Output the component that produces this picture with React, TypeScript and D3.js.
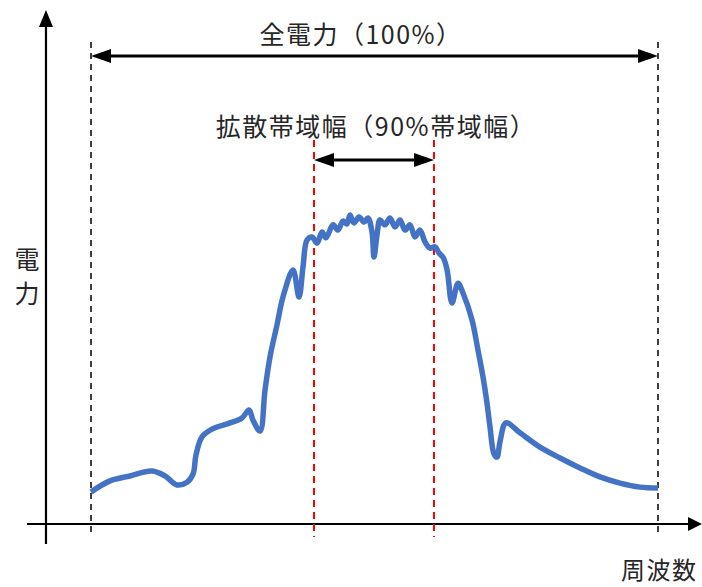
import React from "react";
import * as d3 from "d3";

// Spectrum curve: frequency (0-100 = full power band) vs power (relative units)
const freq = [
  0, 3.35, 6.88, 10.76, 13.05, 15.17, 16.93, 17.99, 18.52, 19.58, 21.34, 24.51, 26.63, 27.87, 28.57, 29.81,
  30.69, 31.57, 32.8, 33.86, 35.63, 36.68, 37.39, 38.1, 38.98, 39.86, 40.74, 41.45, 42.68, 43.56, 44.44,
  45.15, 45.68, 46.38, 47.27, 48.15, 48.85, 49.56, 49.91, 50.44, 50.97, 51.85, 52.73, 53.62, 54.5, 55.38,
  56.26, 57.14, 58.02, 58.91, 59.79, 60.67, 61.38, 62.1, 62.8, 63.67, 64.73, 65.61, 67.2, 68.25, 69.14,
  69.84, 70.37, 71.08, 71.6, 72.13, 73.19, 75.66, 79.19, 82.72, 86.24, 89.77, 93.3, 96.83, 100,
];
const power = [
  10.3, 13.9, 15.5, 17.1, 15.5, 12.6, 13.5, 16.1, 22.3, 28.1, 30.6, 32.6, 34.2, 36.8, 33.5, 30.0,
  43.2, 53.9, 64.2, 73.2, 81.9, 73.2, 82.9, 91.6, 92.6, 90.6, 94.2, 92.3, 96.5, 94.8, 97.7,
  96.8, 99.7, 97.1, 99.0, 97.4, 98.7, 94.2, 86.1, 93.2, 98.1, 96.5, 98.7, 95.8, 98.1, 94.8,
  96.5, 92.6, 94.8, 91.0, 89.0, 89.4, 87.4, 86.0, 82.0, 71.3, 77.7, 74.5, 65.8, 56.1, 47.4,
  39.0, 31.3, 22.6, 21.6, 26.5, 32.6, 29.4, 24.8, 21.3, 18.1, 15.2, 13.2, 11.9, 11.6,
];

// Band markers (frequency units)
const totalBand = [0, 100];
const spreadBand = [39.33, 60.49];
const axisOriginFreq = -7.94;

const labels = {
  total: "全電力（100%）",
  spread: "拡散帯域幅（90%帯域幅）",
  yLabel: ["電", "力"],
  xLabel: "周波数",
};

const W = 702;
const H = 587;

export default function App() {
  const x = d3.scaleLinear().domain([0, 100]).range([91, 658]);
  const y = d3.scaleLinear().domain([0, 100]).range([524, 214]);

  const pts: [number, number][] = freq.map((f, i) => [x(f), y(power[i])]);
  const line = d3.line().curve(d3.curveCatmullRom.alpha(0.5));
  const curvePath = line(pts) || "";

  const axisY = y(0);
  const axisX = x(axisOriginFreq);
  const font = "'Noto Sans CJK JP', 'Noto Sans', sans-serif";
  const fs = 25;
  const ls = 1.5;
  const txtColor = "#262626";

  const dblArrow = (x1: number, x2: number, yy: number, hl: number, hw: number) => (
    <g>
      <line x1={x1 + hl - 2} x2={x2 - hl + 2} y1={yy} y2={yy} stroke="#000" strokeWidth={3} />
      <polygon points={`${x1},${yy} ${x1 + hl},${yy - hw} ${x1 + hl},${yy + hw}`} fill="#000" />
      <polygon points={`${x2},${yy} ${x2 - hl},${yy - hw} ${x2 - hl},${yy + hw}`} fill="#000" />
    </g>
  );

  return (
    <div style={{ position: "absolute", left: 0, top: 0 }}>
      <svg width={W} height={H} style={{ display: "block", background: "#fff" }}>
        {/* axes */}
        <line x1={27} x2={690} y1={axisY} y2={axisY} stroke="#000" strokeWidth={2.2} />
        <polygon points={`702,${axisY} 688,${axisY - 7} 688,${axisY + 7}`} fill="#000" />
        <line x1={axisX} x2={axisX} y1={544} y2={24} stroke="#000" strokeWidth={2.2} />
        <polygon points={`${axisX},10 ${axisX - 7},27 ${axisX + 7},27`} fill="#000" />

        {/* total band dashed lines */}
        {totalBand.map((f, i) => (
          <line key={"t" + i} x1={x(f)} x2={x(f)} y1={42} y2={534} stroke="#000" strokeWidth={1.5} strokeDasharray="6,5" />
        ))}
        {/* spread band dashed lines */}
        {spreadBand.map((f, i) => (
          <line key={"s" + i} x1={x(f)} x2={x(f)} y1={140} y2={537} stroke="#FF0000" strokeWidth={2} strokeDasharray="7,5" />
        ))}

        {/* curve */}
        <path d={curvePath} fill="none" stroke="#4472C4" strokeWidth={5.5} strokeLinejoin="round" />

        {/* arrows */}
        {dblArrow(x(totalBand[0]), x(totalBand[1]), 56, 20, 7)}
        {dblArrow(x(spreadBand[0]), x(spreadBand[1]), 160, 20, 7)}

        {/* labels */}
        <text x={361} y={33} fontFamily={font} fontSize={fs} letterSpacing={ls} textAnchor="middle" dominantBaseline="central" fill={txtColor}>
          {labels.total}
        </text>
        <text x={376} y={125} fontFamily={font} fontSize={fs} letterSpacing={ls} textAnchor="middle" dominantBaseline="central" fill={txtColor}>
          {labels.spread}
        </text>
        {labels.yLabel.map((c, i) => (
          <text key={c} x={27} y={258 + i * 34} fontFamily={font} fontSize={fs} textAnchor="middle" dominantBaseline="central" fill={txtColor}>
            {c}
          </text>
        ))}
        <text x={621} y={568} fontFamily={font} fontSize={24} letterSpacing={1.5} textAnchor="start" dominantBaseline="central" fill={txtColor}>
          {labels.xLabel}
        </text>
      </svg>
    </div>
  );
}
